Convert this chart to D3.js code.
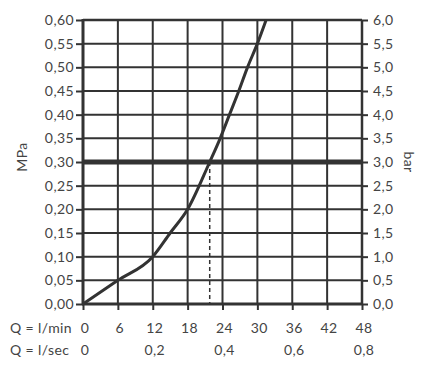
<!DOCTYPE html>
<html><head><meta charset="utf-8">
<script src="https://cdn.jsdelivr.net/npm/d3@7"></script>
<style>
body{margin:0;background:#fff;}
text{font-family:"Lato","DejaVu Sans",sans-serif;fill:#444;letter-spacing:0.4px;}
</style></head>
<body><svg id="c" width="440" height="371"></svg>
<script>
// Data
const flowLmin = [0, 6, 12, 15, 18, 21.8, 23.6, 25.2, 26.8, 28.3, 30, 31.5];
const pressureMPa = [0, 0.05, 0.10, 0.15, 0.20, 0.30, 0.35, 0.40, 0.45, 0.50, 0.55, 0.60];
const mpaTicks = [0,0.05,0.10,0.15,0.20,0.25,0.30,0.35,0.40,0.45,0.50,0.55,0.60];
const barTicks = [0,0.5,1,1.5,2,2.5,3,3.5,4,4.5,5,5.5,6];
const lminTicks = [0,6,12,18,24,30,36,42,48];
const lsecTicks = [0,0.2,0.4,0.6,0.8];
const refPressure = 0.30;
const refFlow = 21.8;

const svg = d3.select("#c");
const L=83, R=362, T=20, B=304;
const x = d3.scaleLinear().domain([0,48]).range([L,R]);
const xs = d3.scaleLinear().domain([0,0.8]).range([L,R]);
const y = d3.scaleLinear().domain([0,0.6]).range([B,T]);
const yb = d3.scaleLinear().domain([0,6]).range([B,T]);
const fmt2 = d => d3.format(".2f")(d).replace(".",",");
const fmt1 = d => d3.format(".1f")(d).replace(".",",");
const col="#333";

// grid
svg.append("g").selectAll("line").data(mpaTicks).join("line")
  .attr("x1",L).attr("x2",R).attr("y1",d=>y(d)).attr("y2",d=>y(d))
  .attr("stroke",col).attr("stroke-width",2);
svg.append("g").selectAll("line").data(lminTicks).join("line")
  .attr("x1",d=>x(d)).attr("x2",d=>x(d)).attr("y1",T).attr("y2",B)
  .attr("stroke",col).attr("stroke-width",2);

// left axis
const la = svg.append("g").attr("transform",`translate(${L},0)`)
  .call(d3.axisLeft(y).tickValues(mpaTicks).tickFormat(fmt2).tickSize(7).tickPadding(2));
// right axis
const ra = svg.append("g").attr("transform",`translate(${R},0)`)
  .call(d3.axisRight(yb).tickValues(barTicks).tickFormat(fmt1).tickSize(6).tickPadding(5));
// bottom ticks
const ba = svg.append("g").attr("transform",`translate(0,${B})`)
  .call(d3.axisBottom(x).tickValues(lminTicks).tickFormat("").tickSize(6));
[la,ra,ba].forEach(g=>{
  g.select(".domain").remove();
  g.selectAll(".tick line").attr("stroke",col).attr("stroke-width",2);
  g.selectAll("text").style("font-size","14px").attr("fill","#444");
});

// frame
svg.append("line").attr("x1",L).attr("x2",L).attr("y1",T-1).attr("y2",B+1).attr("stroke",col).attr("stroke-width",3);
svg.append("line").attr("x1",L-1).attr("x2",R+1).attr("y1",B).attr("y2",B).attr("stroke",col).attr("stroke-width",3);
svg.append("line").attr("x1",R).attr("x2",R).attr("y1",T).attr("y2",B).attr("stroke",col).attr("stroke-width",2.5);
svg.append("line").attr("x1",L).attr("x2",R).attr("y1",T).attr("y2",T).attr("stroke",col).attr("stroke-width",2.5);

// reference line
svg.append("line").attr("x1",L).attr("x2",R).attr("y1",y(refPressure)).attr("y2",y(refPressure))
  .attr("stroke",col).attr("stroke-width",5);
svg.append("line").attr("x1",x(refFlow)).attr("x2",x(refFlow)).attr("y1",y(refPressure)).attr("y2",B)
  .attr("stroke",col).attr("stroke-width",1.5).attr("stroke-dasharray","4,3");

// curve
const pts = flowLmin.map((q,i)=>[q,pressureMPa[i]]);
svg.append("path").datum(pts)
  .attr("d",d3.line().x(d=>x(d[0])).y(d=>y(d[1])).curve(d3.curveMonotoneX))
  .attr("fill","none").attr("stroke",col).attr("stroke-width",3);

// bottom labels
svg.append("g").selectAll("text").data(lminTicks).join("text")
  .attr("x",d=>x(d)+2).attr("y",333).attr("text-anchor","middle")
  .style("font-size","14px").text(d=>d);
svg.append("g").selectAll("text").data(lsecTicks).join("text")
  .attr("x",d=>xs(d)+2).attr("y",355).attr("text-anchor","middle")
  .style("font-size","14px").text(d=>d===0?"0":fmt1(d));
svg.append("text").attr("x",10).attr("y",333).style("font-size","14px").text("Q = l/min");
svg.append("text").attr("x",10).attr("y",355).style("font-size","14px").text("Q = l/sec");

// axis titles
svg.append("text").attr("transform","translate(27,157) rotate(-90)").attr("text-anchor","middle")
  .style("font-size","14px").text("MPa");
svg.append("text").attr("transform","translate(404,162) rotate(90)").attr("text-anchor","middle")
  .style("font-size","14px").text("bar");
</script></body></html>
